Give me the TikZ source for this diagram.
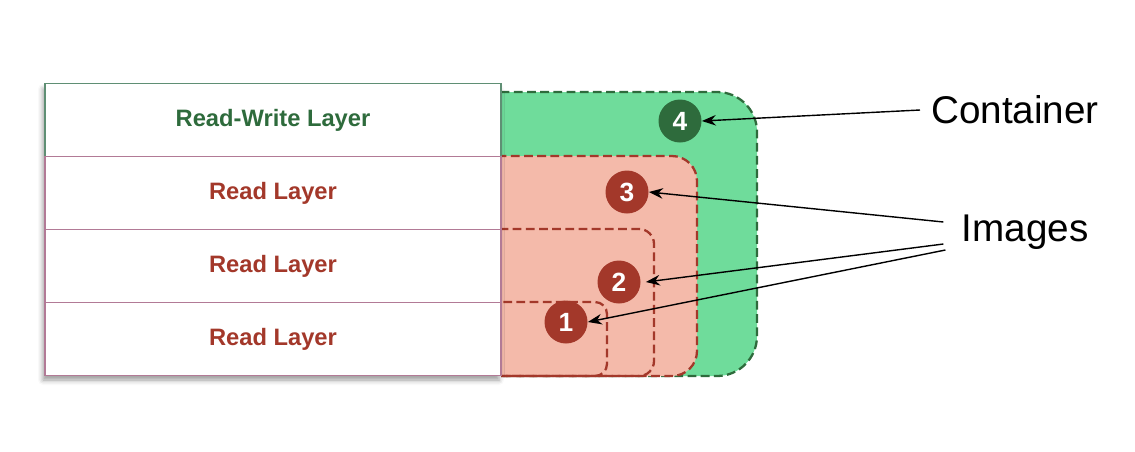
\documentclass[tikz,border=0pt]{standalone}
\usepackage{fontspec}
\setmainfont{Liberation Sans}
\usepackage{tikz}
\usetikzlibrary{arrows.meta, positioning, shadows.blur}
\definecolor{ctgreen}{HTML}{6FDC9B}
\definecolor{ctgreendk}{HTML}{2E6B3C}
\definecolor{imred}{HTML}{F4BAAA}
\definecolor{imreddk}{HTML}{A3382A}
\definecolor{rowline}{HTML}{B27A96}
\definecolor{rwline}{HTML}{5F8F74}
\tikzset{
  layernode/.style={rectangle,draw=rowline,fill=white,line width=0.7pt,minimum width=9.12cm,minimum height=1.46cm,inner sep=0pt,font=\bfseries\fontsize{13.5}{15}\selectfont},
  rwnode/.style={layernode,draw=rwline,text=ctgreendk},
  rdnode/.style={layernode,text=imreddk},
  numnode/.style={circle,minimum size=0.86cm,inner sep=0pt,text=white,font=\bfseries\fontsize{15}{17}\selectfont},
  ctnum/.style={numnode,fill=ctgreendk},
  imnum/.style={numnode,fill=imreddk},
  ctbox/.style={draw=ctgreendk,fill=ctgreen,dashed,dash pattern=on 5pt off 2.5pt,line width=1.3pt},
  imbox/.style={draw=imreddk,dashed,dash pattern=on 5pt off 2.5pt,line width=1.3pt},
  callout/.style={font=\fontsize{22}{26}\selectfont},
  ptredge/.style={-{Stealth[length=8pt,width=6pt]},line width=0.8pt,black},
}
\begin{document}
\begin{tikzpicture}[x=0.02cm,y=-0.02cm]
  \useasboundingbox (0,0) rectangle (1135,451);
  % container and image layers
  \begin{scope}
    \clip (501,0) rectangle (1135,451);
    \draw[ctbox,rounded corners=0.8cm] (440,92) rectangle (757,376);
    \draw[imbox,fill=imred,rounded corners=0.5cm] (440,156) rectangle (697,376);
    \draw[imbox,rounded corners=0.3cm] (440,229) rectangle (654,376);
    \draw[imbox,rounded corners=0.24cm] (440,302) rectangle (607,376);
  \end{scope}
  % layer stack
  \fill[white,blur shadow={shadow xshift=-0.04cm,shadow yshift=-0.1cm,shadow opacity=40,shadow blur radius=0.1cm}] (45,84) rectangle (501,375);
  \node[rwnode] (nRW) at (273,120) {Read-Write Layer};
  \node[rdnode] (nR3) at (273,193) {Read Layer};
  \node[rdnode] (nR2) at (273,266) {Read Layer};
  \node[rdnode] (nR1) at (273,339) {Read Layer};
  % numbered markers
  \node[ctnum] (n4) at (680,121) {4};
  \node[imnum] (n3) at (627,192) {3};
  \node[imnum] (n2) at (619,282) {2};
  \node[imnum] (n1) at (566,322) {1};
  % callouts
  \node[callout] (nCont) at (1015,110) {Container};
  \node[callout] (nImg) at (1025,232) {Images};
  \draw[ptredge] ([xshift=-0.1cm]nCont.west) -- (n4.east);
  \draw[ptredge] ([shift={(-12,-10)}]nImg.west) -- (n3.east);
  \draw[ptredge] ([shift={(-12,12)}]nImg.west) -- ([xshift=0.1cm]n2.east);
  \draw[ptredge] ([shift={(-10,18)}]nImg.west) -- (n1.east);
\end{tikzpicture}
\end{document}
